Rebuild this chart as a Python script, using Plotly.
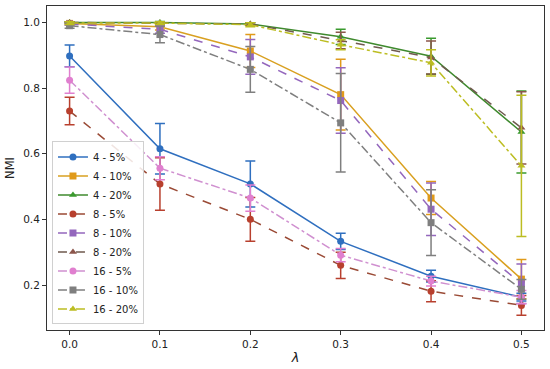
import plotly.graph_objects as go

lam = [0.0, 0.1, 0.2, 0.3, 0.4, 0.5]

names = ["4 - 5%", "4 - 10%", "4 - 20%", "8 - 5%", "8 - 10%", "8 - 20%",
         "16 - 5%", "16 - 10%", "16 - 20%"]

v_4_5 = [0.898, 0.615, 0.508, 0.333, 0.227, 0.163]
e_4_5 = [0.033, 0.077, 0.070, 0.025, 0.018, 0.012]
v_4_10 = [0.997, 0.987, 0.913, 0.780, 0.465, 0.218]
e_4_10 = [0.004, 0.010, 0.050, 0.108, 0.050, 0.060]
v_4_20 = [1.000, 1.000, 0.995, 0.956, 0.897, 0.666]
e_4_20 = [0.002, 0.003, 0.004, 0.023, 0.055, 0.125]
v_8_5 = [0.730, 0.508, 0.400, 0.260, 0.181, 0.138]
e_8_5 = [0.042, 0.080, 0.067, 0.040, 0.032, 0.030]
v_8_10 = [0.995, 0.979, 0.895, 0.762, 0.431, 0.204]
e_8_10 = [0.004, 0.012, 0.053, 0.100, 0.080, 0.060]
v_8_20 = [1.000, 0.998, 0.995, 0.945, 0.893, 0.679]
e_8_20 = [0.002, 0.003, 0.004, 0.025, 0.050, 0.110]
v_16_5 = [0.824, 0.556, 0.465, 0.291, 0.212, 0.163]
e_16_5 = [0.040, 0.035, 0.040, 0.020, 0.015, 0.020]
v_16_10 = [0.990, 0.963, 0.857, 0.694, 0.390, 0.187]
e_16_10 = [0.008, 0.025, 0.070, 0.150, 0.100, 0.030]
v_16_20 = [0.998, 0.998, 0.993, 0.932, 0.877, 0.563]
e_16_20 = [0.004, 0.004, 0.006, 0.015, 0.040, 0.215]

values = [v_4_5, v_4_10, v_4_20, v_8_5, v_8_10, v_8_20, v_16_5, v_16_10, v_16_20]
errors = [e_4_5, e_4_10, e_4_20, e_8_5, e_8_10, e_8_20, e_16_5, e_16_10, e_16_20]

colors = ["#2f6fbf", "#e09a1a", "#3a9a2e", "#b8402e", "#9467bd", "#8c564b",
          "#e07fcf", "#7f7f7f", "#bcbd22"]
line_colors = ["#2f6fbf", "#d9a020", "#3f8a2e", "#9a4a35", "#9467bd", "#6f5a4e",
               "#d090d0", "#7f7f7f", "#bcbd22"]
dashes = ["solid", "solid", "solid", "dash", "dash", "dash", "dashdot", "dashdot", "dashdot"]
symbols = ["circle", "square", "triangle-up"] * 3

fig = go.Figure()
for i in range(9):
    fig.add_trace(go.Scatter(
        x=lam, y=values[i], name=names[i], mode="lines+markers",
        line=dict(color=line_colors[i], width=1.5, dash=dashes[i]),
        marker=dict(color=colors[i], symbol=symbols[i], size=7),
        error_y=dict(type="data", array=errors[i], visible=True,
                     color=colors[i], thickness=1.5, width=5),
    ))

font = "DejaVu Sans, Arial, sans-serif"
fig.update_layout(
    width=550, height=369,
    margin=dict(l=47, r=6, t=6, b=39),
    paper_bgcolor="white", plot_bgcolor="white",
    font=dict(family=font, size=10.5, color="#222"),
    legend=dict(x=0.01, y=0.017, xanchor="left", yanchor="bottom",
                bgcolor="rgba(255,255,255,0.85)", bordercolor="#d0d0d0",
                borderwidth=1, font=dict(size=10), tracegroupgap=0,
                itemwidth=30),
    showlegend=True,
)
fig.update_xaxes(range=[-0.025, 0.525], tickvals=lam,
                 ticktext=["0.0", "0.1", "0.2", "0.3", "0.4", "0.5"],
                 showline=True, linecolor="#333", linewidth=1, mirror=True,
                 ticks="outside", ticklen=4, tickcolor="#333", showgrid=False,
                 zeroline=False, automargin=False,
                 title=dict(text="<i>λ</i>", standoff=4, font=dict(size=13)))
fig.update_yaxes(range=[0.063, 1.05], tickvals=[0.2, 0.4, 0.6, 0.8, 1.0],
                 ticktext=["0.2", "0.4", "0.6", "0.8", "1.0"],
                 showline=True, linecolor="#333", linewidth=1, mirror=True,
                 ticks="outside", ticklen=4, tickcolor="#333", showgrid=False,
                 zeroline=False, automargin=False,
                 title=dict(text="NMI", standoff=6, font=dict(size=11.5)))

fig.write_html("out.html", config={"displayModeBar": False},
               post_script="document.body.style.margin='0';document.body.style.overflow='hidden';")
